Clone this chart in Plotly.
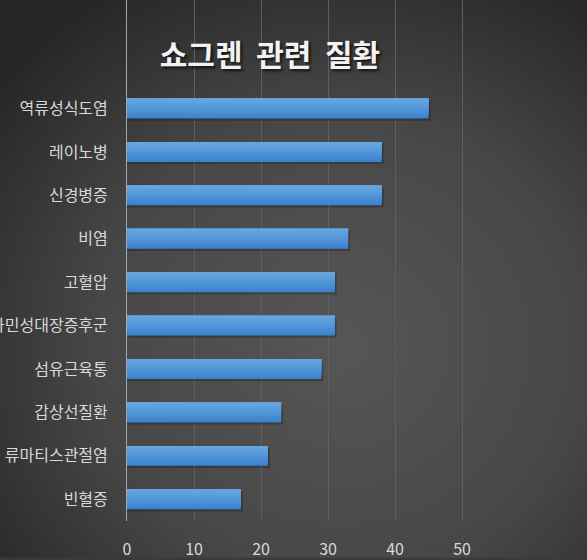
import base64
import plotly.graph_objects as go

# Data (bottom to top)
categories = ["빈혈증", "류마티스관절염", "갑상선질환", "섬유근육통", "과민성대장증후군",
              "고혈압", "비염", "신경병증", "레이노병", "역류성식도염"]
values = [17, 21, 23, 29, 31, 31, 33, 38, 38, 45]
x_ticks = [0, 10, 20, 30, 40, 50]
title_text = "쇼그렌 관련 질환"

W, H = 587, 560
ML, MR, MT, MB = 127, 0, 0, 37
PW, PH = W - ML - MR, H - MT - MB

svg = f'''<svg xmlns="http://www.w3.org/2000/svg" width="{W}" height="{H}">
<defs><radialGradient id="g" cx="0.58" cy="0.62" r="0.75">
<stop offset="0" stop-color="#565656"/><stop offset="0.55" stop-color="#474747"/>
<stop offset="1" stop-color="#262626"/></radialGradient></defs>
<rect width="{W}" height="{H}" fill="url(#g)"/></svg>'''
bg = "data:image/svg+xml;base64," + base64.b64encode(svg.encode()).decode()

font = "Noto Sans CJK KR, Malgun Gothic, sans-serif"
fig = go.Figure()
# shadow
fig.add_trace(go.Bar(y=categories, x=[v + 0.3 for v in values], orientation="h",
                     width=0.46, offset=-0.28, marker=dict(color="rgba(0,0,0,0.22)", line=dict(width=0)),
                     hoverinfo="skip", showlegend=False))
# bar with vertical gradient made of thin strips (bottom darker, top lighter)
strip_colors = ["#3d84ce", "#4389d1", "#498ed4", "#4f93d6", "#5598d9", "#5b9cdb", "#61a0dd", "#67a5df"]
n = len(strip_colors)
bw = 0.46
for i, c in enumerate(strip_colors):
    off = -bw / 2 + i * bw / n
    fig.add_trace(go.Bar(y=categories, x=values, orientation="h", width=bw - i * bw / n, offset=off,
                         marker=dict(color=c, line=dict(width=0)),
                         hoverinfo="skip" if i else None, showlegend=False))

fig.update_layout(
    width=W, height=H, barmode="overlay",
    margin=dict(l=ML, r=MR, t=MT, b=MB, pad=0),
    paper_bgcolor="#3a3a3a", plot_bgcolor="rgba(0,0,0,0)",
    images=[dict(source=bg, xref="paper", yref="paper", x=-ML / PW, y=1 + MT / PH,
                 sizex=W / PW, sizey=H / PH, xanchor="left", yanchor="top",
                 sizing="stretch", layer="below")],
    title=dict(text=title_text.replace(" ", "\u00a0 "), x=(270 - ML) / PW, xref="paper", xanchor="center",
               y=1 - 55 / H, yref="container", yanchor="middle",
               font=dict(family=font, size=30, color="#f2f2f2", weight="bold",
                         shadow="2px 2px 3px rgba(0,0,0,0.7)")),
    xaxis=dict(range=[0, PW / 6.7], tickvals=x_ticks, showgrid=True, gridcolor="#5f5f5f",
               gridwidth=1, zeroline=False, showline=False, ticks="outside", ticklen=14,
               tickcolor="rgba(0,0,0,0)", tickfont=dict(family=font, size=16, color="#d9d9d9"),
               fixedrange=True),
    yaxis=dict(type="category", categoryorder="array", categoryarray=categories,
               range=[-0.5, 11.5], showgrid=False, zeroline=False, showline=True,
               linecolor="#a6a6a6", linewidth=1, ticks="outside", ticklen=15,
               tickcolor="rgba(0,0,0,0)", tickfont=dict(family=font, size=16, color="#d9d9d9"),
               automargin=False, fixedrange=True),
)
fig.write_html("out.html", config={"displayModeBar": False},
               post_script="document.body.style.margin='0';document.body.style.overflow='hidden';")
